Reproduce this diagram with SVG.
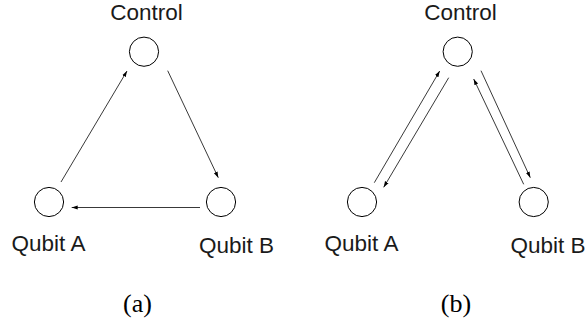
<svg xmlns="http://www.w3.org/2000/svg" width="587" height="320" viewBox="0 0 587 320">
<style>
.node circle{fill:#fff;stroke:#000;stroke-width:1}
.lbl{font-family:"Liberation Sans",Arial,sans-serif;font-size:22.5px;fill:#1a1a1a;text-anchor:middle}
.cap{font-family:"Liberation Serif","Times New Roman",serif;font-size:26px;fill:#000;text-anchor:middle}
#connectors line{stroke:#222;stroke-width:0.9;marker-end:url(#ah)}
</style>
<defs>
<marker id="ah" markerUnits="userSpaceOnUse" markerWidth="8" markerHeight="6" refX="6" refY="2.5" orient="auto">
<path d="M0,0.5 L6,2.5 L0,4.5 Z" fill="#000"/>
</marker>
</defs>
<rect width="587" height="320" fill="#fff"/>
<g id="a-control" class="node"><circle cx="144" cy="51.7" r="14.6"/><text class="lbl" x="146.5" y="20">Control</text></g>
<g id="a-qubitA" class="node"><circle cx="49" cy="202" r="14.6"/><text class="lbl" x="48.5" y="251">Qubit A</text></g>
<g id="a-qubitB" class="node"><circle cx="221" cy="202" r="14.6"/><text class="lbl" x="236.5" y="253">Qubit B</text></g>
<g id="b-control" class="node"><circle cx="457.7" cy="51.7" r="14.6"/><text class="lbl" x="460.5" y="20">Control</text></g>
<g id="b-qubitA" class="node"><circle cx="362" cy="202" r="14.6"/><text class="lbl" x="361.5" y="251">Qubit A</text></g>
<g id="b-qubitB" class="node"><circle cx="533.7" cy="202" r="14.6"/><text class="lbl" x="548" y="253">Qubit B</text></g>
<g id="connectors">
<line x1="61" y1="182" x2="127" y2="71"/>
<line x1="167.7" y1="70.7" x2="218.3" y2="177.7"/>
<line x1="200" y1="207.5" x2="71.7" y2="207.5"/>
<line x1="374.3" y1="182.7" x2="439.7" y2="71"/>
<line x1="448.7" y1="77.7" x2="383.7" y2="187.3"/>
<line x1="481" y1="70.7" x2="530.3" y2="177.7"/>
<line x1="523.7" y1="184.3" x2="473.7" y2="79"/>
</g>
<text class="cap" x="137.5" y="312">(a)</text>
<text class="cap" x="456" y="312">(b)</text>
</svg>
